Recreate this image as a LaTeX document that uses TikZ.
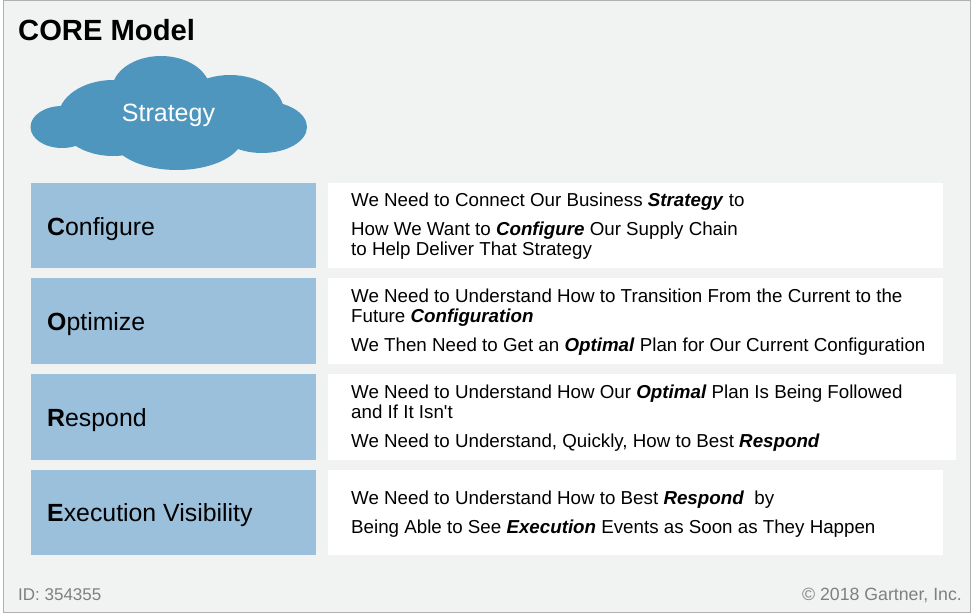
\documentclass[tikz,border=0pt]{standalone}
\usepackage{fontspec}
\setmainfont{Liberation Sans}
\newfontfamily\plainface[Ligatures=ResetAll]{Liberation Sans}
\definecolor{panel}{HTML}{F1F3F3}
\definecolor{edge}{HTML}{B0B0B0}
\definecolor{cloudblue}{HTML}{4F96BF}
\definecolor{lightblue}{HTML}{9AC0DB}
\definecolor{foot}{HTML}{7F7F7F}
\tikzset{
  labelbox/.style={fill=lightblue,draw=none,anchor=north west,inner sep=0pt,minimum height=#1},
  textbox/.style={fill=white,draw=none,anchor=north west,inner sep=0pt,minimum height=#1},
  rowlabel/.style={anchor=base west,inner sep=0pt,font=\fontsize{24.85}{25}\selectfont,text=black},
  body/.style={anchor=base west,inner sep=0pt,font=\fontsize{18.75}{19}\selectfont,text=black},
  footer/.style={inner sep=0pt,text=foot},
  puff/.style={fill=cloudblue,draw=none}
}
\newcommand{\bi}[1]{\textbf{\textit{#1}}}
\begin{document}
\begin{tikzpicture}[x=1pt,y=-1pt]
\useasboundingbox (0,0) rectangle (972,614);
\fill[white] (0,0) rectangle (972,614);
\filldraw[fill=panel,draw=edge,line width=1pt] (3.5,0.5) rectangle (970.5,612.5);
% cloud
\fill[puff] (62,127) ellipse [x radius=31.5, y radius=21];
\fill[puff] (113,118) ellipse [x radius=55, y radius=38];
\fill[puff] (161,90) ellipse [x radius=49, y radius=34];
\fill[puff] (230,112) ellipse [x radius=54, y radius=37];
\fill[puff] (262,127) ellipse [x radius=45, y radius=26];
\fill[puff] (177,136) ellipse [x radius=66, y radius=34];
\node[anchor=base,inner sep=0pt,text=white,font=\fontsize{25}{25}\selectfont] (strategy) at (168.5,121) {Strategy};
\node[anchor=base west,inner sep=0pt,font=\bfseries\fontsize{29.2}{29}\selectfont] (title) at (18,40) {CORE Model};
% left boxes
\node[labelbox=85pt,minimum width=285pt] (b1) at (31,183) {};
\node[labelbox=86pt,minimum width=285pt] (b2) at (31,278) {};
\node[labelbox=86pt,minimum width=285pt] (b3) at (31,374) {};
\node[labelbox=85pt,minimum width=285pt] (b4) at (31,470) {};
% right boxes
\node[textbox=85pt,minimum width=615pt] (t1) at (328,183) {};
\node[textbox=86pt,minimum width=615pt] (t2) at (328,278) {};
\node[textbox=86pt,minimum width=628pt] (t3) at (328,374) {};
\node[textbox=85pt,minimum width=615pt] (t4) at (328,470) {};
% row labels
\node[rowlabel] (l1) at (47,235) {\textbf{C}onfigure};
\node[rowlabel] (l2) at (47,330) {\textbf{O}ptimize};
\node[rowlabel] (l3) at (47,426) {\textbf{R}espond};
\node[rowlabel] (l4) at (47,521) {\textbf{E}xecution Visibility};
% body text
\node[body] (a1) at (351,206) {We Need to Connect Our Business \bi{Strategy} to};
\node[body] (a2) at (351,235) {How We Want to \bi{Configure} Our Supply Chain};
\node[body] (a3) at (351,255) {to Help Deliver That Strategy};
\node[body] (c1) at (351,302) {We Need to Understand How to Transition From the Current to the};
\node[body] (c2) at (351,322) {Future \bi{Configuration}};
\node[body] (c3) at (351,351) {We Then Need to Get an \bi{Optimal} Plan for Our Current Configuration};
\node[body] (d1) at (351,398) {We Need to Understand How Our \bi{Optimal} Plan Is Being Followed};
\node[body] (d2) at (351,418) {and If It Isn{\plainface '}t};
\node[body] (d3) at (351,447) {We Need to Understand, Quickly, How to Best \bi{Respond}};
\node[body] (e1) at (351,504) {We Need to Understand How to Best \bi{Respond}\ \ by};
\node[body] (e2) at (351,533) {Being Able to See \bi{Execution} Events as Soon as They Happen};
% footer
\node[footer,anchor=base west,font=\fontsize{17}{17}\selectfont] (id) at (18,600) {ID: 354355};
\node[footer,anchor=base east,font=\fontsize{17.7}{18}\selectfont] (copy) at (962,600) {© 2018 Gartner, Inc.};
\end{tikzpicture}
\end{document}
